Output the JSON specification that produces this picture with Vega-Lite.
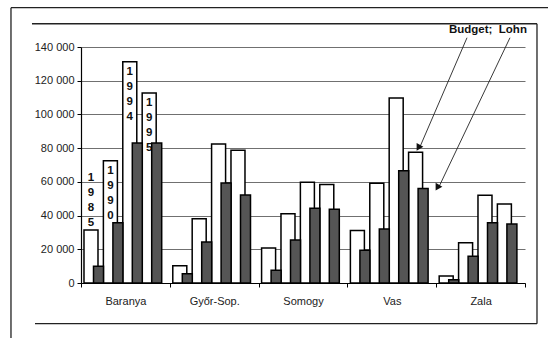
{
  "$schema": "https://vega.github.io/schema/vega-lite/v6.json",
  "width": 444,
  "height": 236,
  "autosize": {"type": "none"},
  "padding": {"left": 81, "top": 47, "right": 23, "bottom": 55},
  "background": "#ffffff",
  "config": {
    "view": {"stroke": null},
    "font": "Liberation Sans",
    "axisX": {
      "title": null, "grid": false, "labelAngle": 0, "tickBand": "extent",
      "tickSize": 4, "tickColor": "#000000", "domainColor": "#000000", "domainWidth": 1.2,
      "labelFontSize": 11, "labelPadding": 8, "labelColor": "#222222"
    },
    "axisY": {
      "title": null, "grid": true, "gridColor": "#707070", "gridWidth": 1,
      "domainColor": "#000000", "domainWidth": 1.2, "tickColor": "#000000", "tickSize": 4,
      "labelFontSize": 11, "labelColor": "#222222", "labelPadding": 3,
      "tickCount": 8, "labelOverlap": false,
      "labelExpr": "replace(format(datum.value, ','), ',', ' ')"
    }
  },
  "datasets": {
    "bars": [
      {"region": "Baranya", "year": 1985, "Budget": 31500, "Lohn": 10000},
      {"region": "Baranya", "year": 1990, "Budget": 72500, "Lohn": 35800},
      {"region": "Baranya", "year": 1994, "Budget": 131300, "Lohn": 83000},
      {"region": "Baranya", "year": 1995, "Budget": 112700, "Lohn": 83000},
      {"region": "Győr-Sop.", "year": 1985, "Budget": 10300, "Lohn": 5500},
      {"region": "Győr-Sop.", "year": 1990, "Budget": 38100, "Lohn": 24300},
      {"region": "Győr-Sop.", "year": 1994, "Budget": 82400, "Lohn": 59300},
      {"region": "Győr-Sop.", "year": 1995, "Budget": 78700, "Lohn": 52200},
      {"region": "Somogy", "year": 1985, "Budget": 20700, "Lohn": 7500},
      {"region": "Somogy", "year": 1990, "Budget": 41100, "Lohn": 25500},
      {"region": "Somogy", "year": 1994, "Budget": 59700, "Lohn": 44300},
      {"region": "Somogy", "year": 1995, "Budget": 58500, "Lohn": 43700},
      {"region": "Vas", "year": 1985, "Budget": 31200, "Lohn": 19400},
      {"region": "Vas", "year": 1990, "Budget": 59100, "Lohn": 32000},
      {"region": "Vas", "year": 1994, "Budget": 109700, "Lohn": 66600},
      {"region": "Vas", "year": 1995, "Budget": 77500, "Lohn": 56100},
      {"region": "Zala", "year": 1985, "Budget": 4100, "Lohn": 2000},
      {"region": "Zala", "year": 1990, "Budget": 23900, "Lohn": 15800},
      {"region": "Zala", "year": 1994, "Budget": 52000, "Lohn": 35800},
      {"region": "Zala", "year": 1995, "Budget": 46900, "Lohn": 35000}
    ],
    "frame": [
      {"part": "outer-left", "x1": -0.1577, "x2": -0.1577, "y1": 163300, "y2": -33500},
      {"part": "outer-top", "x1": -0.1577, "x2": 1.07, "y1": 163300, "y2": 163300},
      {"part": "inner-top", "x1": -0.1104, "x2": 1.027, "y1": 153800, "y2": 153800},
      {"part": "inner-right", "x1": 1.027, "x2": 1.027, "y1": 153800, "y2": -24150},
      {"part": "inner-bottom", "x1": -0.1036, "x2": 1.027, "y1": -24150, "y2": -24150}
    ],
    "arrows": [
      {"series": "Budget", "x1": 0.8694, "y1": 145500, "x2": 0.7635, "y2": 80800},
      {"series": "Lohn", "x1": 0.9662, "y1": 145500, "x2": 0.8063, "y2": 57100}
    ],
    "legend": [
      {"label": "Budget;\u00a0\u00a0Lohn", "x": 0.8288, "y": 150300}
    ]
  },
  "layer": [
    {
      "layer": [
        {
          "data": {"name": "frame"},
          "mark": {"type": "rule", "color": "#222222", "strokeWidth": 1.3},
          "encoding": {
            "x": {"field": "x1", "type": "quantitative", "scale": {"domain": [0, 1], "nice": false, "zero": false}, "axis": null},
            "x2": {"field": "x2"},
            "y": {"field": "y1", "type": "quantitative", "scale": {"domain": [0, 140000], "nice": false, "zero": false}, "axis": null},
            "y2": {"field": "y2"}
          }
        },
        {
          "data": {"name": "arrows"},
          "mark": {"type": "rule", "color": "#222222", "strokeWidth": 0.9},
          "encoding": {
            "x": {"field": "x1", "type": "quantitative", "axis": null},
            "x2": {"field": "x2"},
            "y": {"field": "y1", "type": "quantitative", "axis": null},
            "y2": {"field": "y2"}
          }
        },
        {
          "data": {"name": "arrows"},
          "mark": {"type": "point", "shape": "triangle-right", "filled": true, "color": "#111111", "size": 60, "opacity": 1},
          "encoding": {
            "x": {"field": "x2", "type": "quantitative", "axis": null},
            "y": {"field": "y2", "type": "quantitative", "axis": null}
          }
        },
        {
          "data": {"name": "legend"},
          "mark": {"type": "text", "align": "left", "baseline": "middle", "fontSize": 11.5, "fontWeight": "bold", "color": "#111111"},
          "encoding": {
            "x": {"field": "x", "type": "quantitative", "axis": null},
            "y": {"field": "y", "type": "quantitative", "axis": null},
            "text": {"field": "label"}
          }
        }
      ]
    },
    {
      "data": {"name": "bars"},
      "layer": [
        {
          "layer": [
            {
              "mark": {"type": "bar", "fill": "#ffffff", "stroke": "#000000", "strokeWidth": 1.5},
              "encoding": {
                "x": {"field": "region", "type": "nominal", "sort": null, "title": null,
                      "scale": {"domain": ["Baranya", "Győr-Sop.", "Somogy", "Vas", "Zala"], "paddingInner": 0, "paddingOuter": 0}},
                "xOffset": {"field": "year", "type": "ordinal",
                      "scale": {"domain": [1985, 1990, 1994, 1995], "paddingInner": 0.278, "paddingOuter": 0.428, "align": 0.18}},
                "y": {"field": "Budget", "type": "quantitative", "title": null,
                      "scale": {"domain": [0, 140000], "nice": false, "zero": true},
                      "axis": {"grid": true, "values": [0, 20000, 40000, 60000, 80000, 100000, 120000, 140000]}}
              }
            },
            {
              "transform": [
                {"filter": "datum.region === 'Baranya' && datum.year === 1985"},
                {"calculate": "split(toString(datum.year), '')", "as": "label"}
              ],
              "mark": {"type": "text", "align": "center", "baseline": "alphabetic", "dy": -49, "fontSize": 11.5, "fontWeight": "bold", "lineHeight": 15, "color": "#111111"},
              "encoding": {
                "x": {"field": "region", "type": "nominal", "sort": null, "title": null},
                "xOffset": {"field": "year", "type": "ordinal"},
                "y": {"field": "Budget", "type": "quantitative", "title": null,
                      "axis": {"grid": true, "values": [0, 20000, 40000, 60000, 80000, 100000, 120000, 140000]}},
                "text": {"field": "label"}
              }
            },
            {
              "transform": [
                {"filter": "datum.region === 'Baranya' && datum.year !== 1985"},
                {"calculate": "split(toString(datum.year), '')", "as": "label"}
              ],
              "mark": {"type": "text", "align": "center", "baseline": "top", "dy": 4, "fontSize": 11.5, "fontWeight": "bold", "lineHeight": 15, "color": "#111111"},
              "encoding": {
                "x": {"field": "region", "type": "nominal", "sort": null, "title": null},
                "xOffset": {"field": "year", "type": "ordinal"},
                "y": {"field": "Budget", "type": "quantitative", "title": null,
                      "axis": {"grid": true, "values": [0, 20000, 40000, 60000, 80000, 100000, 120000, 140000]}},
                "text": {"field": "label"}
              }
            }
          ]
        },
        {
          "mark": {"type": "bar", "fill": "#555555", "stroke": "#000000", "strokeWidth": 1.5},
          "encoding": {
            "x": {"field": "region", "type": "nominal", "sort": null, "title": null},
            "xOffset": {"field": "year", "type": "ordinal",
                  "scale": {"domain": [1985, 1990, 1994, 1995], "paddingInner": 0.4845, "paddingOuter": 0.531, "align": 0.607}},
            "y": {"field": "Lohn", "type": "quantitative", "title": null,
                  "axis": {"grid": true, "values": [0, 20000, 40000, 60000, 80000, 100000, 120000, 140000]}},
            "size": {"field": "year", "type": "ordinal", "legend": null,
                  "scale": {"domain": [1985, 1990, 1994, 1995], "range": [10, 10, 10, 15]}}
          }
        }
      ],
      "resolve": {"scale": {"xOffset": "independent"}}
    }
  ],
  "resolve": {"scale": {"x": "independent", "y": "independent"}}
}
